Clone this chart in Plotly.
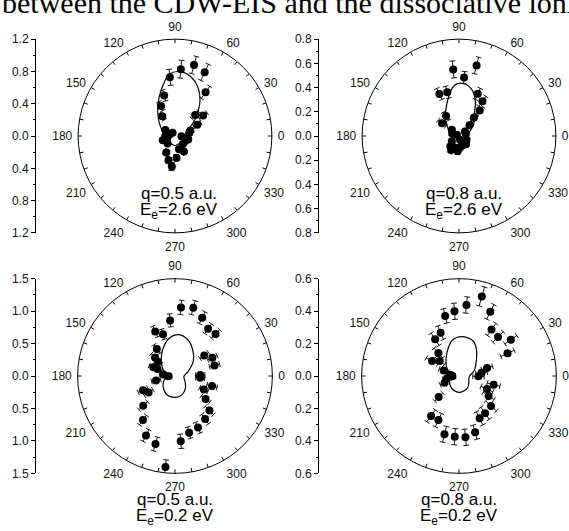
import math
import plotly.graph_objects as go

# ---------------- data ----------------
# Panel 1: q=0.5 a.u., Ee=2.6 eV
theta1 = [95, 85, 75, 65, 55, 105, 115, 123, 46, 36, 27, 19, 148, 167, 127, 199, 194, 357, 332, 12, 287, 300, 345, 274, 242, 255, 264, 180, 315, 225]
r1 = [0.73, 0.83, 0.91, 0.87, 0.66, 0.52, 0.41, 0.29, 0.36, 0.43, 0.31, 0.20, 0.14, 0.07, 0.05, 0.16, 0.10, 0.08, 0.14, 0.18, 0.17, 0.22, 0.17, 0.27, 0.23, 0.31, 0.38, 0.12, 0.14, 0.13]
err1 = [0.10, 0.11, 0.11, 0.11, 0.09, 0.07, 0.06, 0.05, 0.06, 0.06, 0.05, 0.04, 0.03, 0.02, 0.02, 0.03, 0.03, 0.02, 0.03, 0.03, 0.03, 0.04, 0.03, 0.04, 0.04, 0.04, 0.05, 0.02, 0.03, 0.03]
ctheta1 = [0, 20, 40, 55, 65, 75, 85, 95, 105, 118, 135, 150, 165, 180, 200, 225, 250, 270, 290, 315, 340, 360]
cr1 = [0.13, 0.16, 0.33, 0.54, 0.67, 0.76, 0.80, 0.77, 0.62, 0.45, 0.29, 0.20, 0.15, 0.13, 0.11, 0.10, 0.11, 0.12, 0.11, 0.10, 0.11, 0.13]

# Panel 2: q=0.8 a.u., Ee=2.6 eV
theta2 = [95, 76, 85, 115, 105, 66, 56, 51, 123, 143, 51, 46, 139, 150, 38, 285, 334, 216, 252, 285, 241, 265, 160, 20, 310, 230, 272]
r2 = [0.552, 0.600, 0.484, 0.383, 0.374, 0.381, 0.346, 0.272, 0.196, 0.175, 0.197, 0.127, 0.078, 0.020, 0.062, 0.031, 0.069, 0.073, 0.102, 0.086, 0.132, 0.124, 0.06, 0.06, 0.09, 0.11, 0.10]
err2 = [0.07, 0.07, 0.05, 0.05, 0.05, 0.05, 0.05, 0.04, 0.04, 0.04, 0.03, 0.03, 0.02, 0.01, 0.02, 0.01, 0.02, 0.02, 0.03, 0.02, 0.03, 0.03, 0.02, 0.02, 0.02, 0.02, 0.02]
ctheta2 = [0, 20, 40, 52, 65, 75, 85, 95, 110, 130, 150, 170, 200, 230, 260, 280, 310, 340, 360]
cr2 = [0.07, 0.09, 0.16, 0.20, 0.32, 0.40, 0.435, 0.42, 0.29, 0.17, 0.10, 0.07, 0.06, 0.08, 0.10, 0.10, 0.08, 0.07, 0.07]

# Panel 3: q=0.5 a.u., Ee=0.2 eV
theta3 = [85, 75, 95, 65, 55, 46, 114, 106, 124, 137, 140, 158, 158, 172, 183, 193, 35, 26, 15, 2, 356, 345, 335, 323, 315, 305, 294, 284, 275, 204, 212, 223, 234, 244, 254, 264]
r3 = [1.06, 1.09, 0.86, 0.99, 0.89, 0.90, 0.75, 0.67, 0.50, 0.42, 0.35, 0.36, 0.29, 0.18, 0.10, 0.30, 0.55, 0.64, 0.63, 0.39, 0.39, 0.59, 0.49, 0.59, 0.75, 0.81, 0.87, 0.90, 1.01, 0.54, 0.48, 0.67, 0.84, 1.02, 1.09, 1.41]
err3 = [0.11, 0.11, 0.10, 0.10, 0.09, 0.09, 0.09, 0.08, 0.08, 0.08, 0.07, 0.07, 0.07, 0.06, 0.05, 0.07, 0.08, 0.08, 0.08, 0.07, 0.07, 0.08, 0.07, 0.08, 0.09, 0.09, 0.09, 0.09, 0.11, 0.08, 0.08, 0.09, 0.09, 0.10, 0.11, 0.11]
ctheta3 = [0, 20, 40, 55, 70, 85, 100, 115, 130, 145, 160, 175, 190, 210, 230, 250, 270, 290, 310, 330, 350, 360]
cr3 = [0.14, 0.22, 0.37, 0.48, 0.59, 0.64, 0.58, 0.45, 0.33, 0.24, 0.17, 0.13, 0.15, 0.21, 0.27, 0.32, 0.33, 0.31, 0.25, 0.18, 0.14, 0.14]

# Panel 4: q=0.8 a.u., Ee=0.2 eV
theta4 = [74, 84, 94, 103, 64, 55, 45, 35, 25, 113, 123, 132, 151, 142, 160, 172, 192, 205, 183, 226, 235, 245, 256, 266, 276, 286, 296, 305, 317, 326, 335, 346, 359, 8, 16]
r4 = [0.51, 0.44, 0.40, 0.38, 0.44, 0.35, 0.34, 0.39, 0.33, 0.29, 0.27, 0.19, 0.19, 0.15, 0.10, 0.055, 0.076, 0.098, 0.041, 0.18, 0.30, 0.30, 0.37, 0.375, 0.38, 0.36, 0.29, 0.28, 0.27, 0.22, 0.19, 0.22, 0.12, 0.14, 0.18]
err4 = [0.06, 0.05, 0.05, 0.045, 0.05, 0.045, 0.045, 0.045, 0.045, 0.045, 0.045, 0.04, 0.04, 0.035, 0.03, 0.02, 0.025, 0.03, 0.02, 0.035, 0.045, 0.045, 0.05, 0.05, 0.05, 0.045, 0.045, 0.045, 0.045, 0.04, 0.04, 0.04, 0.035, 0.035, 0.035]
ctheta4 = [0, 20, 44, 57, 68, 86, 100, 117, 140, 160, 180, 210, 240, 273, 306, 330, 345, 360]
cr4 = [0.065, 0.10, 0.15, 0.197, 0.233, 0.243, 0.225, 0.163, 0.103, 0.07, 0.06, 0.07, 0.089, 0.101, 0.09, 0.07, 0.063, 0.065]

rmax = [1.2, 0.8, 1.5, 0.6]
major_ticks = [[0.0, 0.4, 0.8, 1.2], [0.0, 0.2, 0.4, 0.6, 0.8], [0.0, 0.5, 1.0, 1.5], [0.0, 0.2, 0.4, 0.6]]
minor_step = [0.2, 0.1, 0.25, 0.1]
q_labels = ["q=0.5 a.u.", "q=0.8 a.u.", "q=0.5 a.u.", "q=0.8 a.u."]
e_labels = ["E<sub>e</sub>=2.6 eV", "E<sub>e</sub>=2.6 eV", "E<sub>e</sub>=0.2 eV", "E<sub>e</sub>=0.2 eV"]
angle_ticks = list(range(0, 360, 10))
angle_text = [str(a) if a % 30 == 0 else "" for a in angle_ticks]
title_text = "between the CDW-EIS and the dissociative ionization"

# ---------------- layout geometry ----------------
W, H = 569, 531
FONT = "Liberation Sans, Arial, sans-serif"
boxes = [(76, 274, 33, 232), (360, 558, 33, 232), (76, 274, 279, 479), (360, 558, 279, 479)]
axis_x = [36, 319, 36, 319]
label_pos = [((179, 192), (179, 210)), ((464, 192), (464, 210)),
             ((175, 506), (175, 524)), ((459, 506), (459, 524))]

panels = [
    (theta1, r1, err1, ctheta1, cr1),
    (theta2, r2, err2, ctheta2, cr2),
    (theta3, r3, err3, ctheta3, cr3),
    (theta4, r4, err4, ctheta4, cr4),
]


def err_segments(theta, r, e, cap):
    rr, tt = [], []
    for th, rv, ev in zip(theta, r, e):
        lo = max(rv - ev, 0.0)
        hi = rv + ev
        rr += [lo, hi, None]
        tt += [th, th, None]
        for end in (hi, lo):
            if end <= 0:
                continue
            rc = math.hypot(end, cap)
            dt = math.degrees(math.atan2(cap, end))
            rr += [rc, rc, None]
            tt += [th - dt, th + dt, None]
    return rr, tt


def inner_ticks(rm, px_per_unit, length_px=4.0):
    rr, tt = [], []
    for a in angle_ticks:
        rr += [rm - length_px / px_per_unit, rm, None]
        tt += [a, a, None]
    return rr, tt


fig = go.Figure()
layout = dict(
    width=W, height=H, margin=dict(l=0, r=0, t=0, b=0),
    paper_bgcolor="white", plot_bgcolor="white", showlegend=False,
    font=dict(family=FONT, size=12, color="#111"),
)
annotations = []

for i, (th, rv, ev, cth, crv) in enumerate(panels):
    k = "" if i == 0 else str(i + 1)
    pid = "polar" + k
    L, R, T, B = boxes[i]
    rm = rmax[i]
    px_per_unit = (R - L) / 2 / rm
    cap = 3.0 / px_per_unit

    layout[pid] = dict(
        domain=dict(x=[L / W, R / W], y=[1 - B / H, 1 - T / H]),
        bgcolor="white",
        angularaxis=dict(
            rotation=0, direction="counterclockwise",
            tickmode="array", tickvals=angle_ticks, ticktext=angle_text,
            ticks="outside", ticklen=3, tickcolor="rgba(0,0,0,0)", tickwidth=1,
            showline=True, linecolor="black", linewidth=1,
            showgrid=False, tickfont=dict(family=FONT, size=12, color="#111"),
        ),
        radialaxis=dict(visible=False, range=[0, rm], showgrid=False, showline=False),
    )

    # inward tick marks on the circle every 10 degrees
    tr, tth = inner_ticks(rm, px_per_unit)
    fig.add_trace(go.Scatterpolar(
        r=tr, theta=tth, mode="lines", subplot=pid,
        line=dict(color="black", width=1), hoverinfo="skip",
    ))
    # theoretical curve
    fig.add_trace(go.Scatterpolar(
        r=crv, theta=cth, mode="lines", subplot=pid,
        line=dict(color="black", width=1.2, shape="spline", smoothing=1.0),
        hoverinfo="skip",
    ))
    # error bars
    er, et = err_segments(th, rv, ev, cap)
    fig.add_trace(go.Scatterpolar(
        r=er, theta=et, mode="lines", subplot=pid,
        line=dict(color="black", width=0.9), hoverinfo="skip", connectgaps=False,
    ))
    # data points
    fig.add_trace(go.Scatterpolar(
        r=rv, theta=th, mode="markers", subplot=pid,
        marker=dict(color="black", size=8, line=dict(width=0)),
    ))

    # left vertical scale
    xa = "xaxis" + k
    ya = "yaxis" + k
    xref = "x" + k
    yref = "y" + k
    ax = axis_x[i]
    layout[xa] = dict(domain=[ax / W, (ax + 1) / W], visible=False, range=[0, 1], anchor=yref)
    majors = major_ticks[i]
    tv = sorted(set([-m for m in majors] + majors))
    tt = ["%.1f" % abs(v) for v in tv]
    step = minor_step[i]
    n = int(round(rm / step))
    minors = [round(j * step, 4) for j in range(-n, n + 1)]
    layout[ya] = dict(
        domain=[1 - B / H, 1 - T / H], range=[-rm, rm], anchor=xref,
        tickmode="array", tickvals=tv, ticktext=tt,
        ticks="outside", ticklen=4, tickwidth=1, tickcolor="black",
        showline=True, linecolor="black", linewidth=1,
        showgrid=False, zeroline=False,
        tickfont=dict(family=FONT, size=12, color="#111"),
        minor=dict(tickmode="array", tickvals=minors, ticks="outside", ticklen=2,
                   tickcolor="black", tickwidth=1, showgrid=False),
    )
    fig.add_trace(go.Scatter(x=[None], y=[None], xaxis=xref, yaxis=yref,
                             mode="markers", hoverinfo="skip"))

    (qx, qy), (ex, ey) = label_pos[i]
    annotations.append(dict(x=qx / W, y=1 - qy / H, xref="paper", yref="paper",
                            text=q_labels[i], showarrow=False, xanchor="center", yanchor="middle",
                            font=dict(family=FONT, size=17, color="black")))
    annotations.append(dict(x=ex / W, y=1 - ey / H, xref="paper", yref="paper",
                            text=e_labels[i], showarrow=False, xanchor="center", yanchor="middle",
                            font=dict(family=FONT, size=17, color="black")))

annotations.append(dict(x=0, y=1 - 14 / H, xref="paper", yref="paper", text=title_text,
                        showarrow=False, xanchor="left", yanchor="bottom",
                        font=dict(family="Liberation Serif, Times New Roman, serif", size=30, color="black")))
layout["annotations"] = annotations
fig.update_layout(**layout)
fig.write_html("out.html", config={"displayModeBar": False},
               post_script=["document.body.style.margin='0';document.body.style.overflow='hidden';"])
